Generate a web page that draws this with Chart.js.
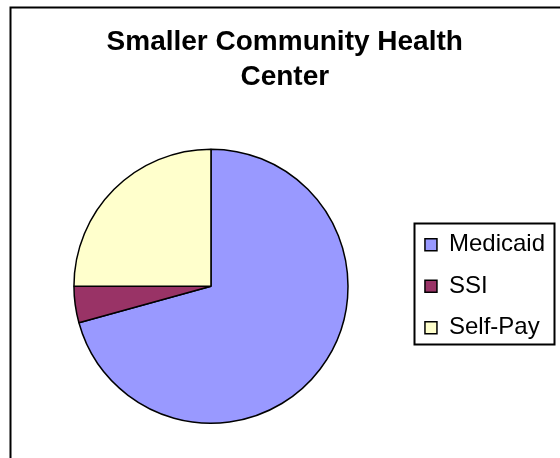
<!DOCTYPE html>
<html>
<head>
<meta charset="utf-8">
<script src="https://cdn.jsdelivr.net/npm/chart.js@4.4.1/dist/chart.umd.min.js"></script>
<style>
  html, body { margin: 0; padding: 0; background: #fff; }
  #wrap { width: 560px; height: 458px; position: relative; }
</style>
</head>
<body>
<div id="wrap"><canvas id="grafico"></canvas></div>
<script>
const categorias = ["Medicaid", "SSI", "Self-Pay"];
const valores = [70.7, 4.3, 25.0];
const colores = ["#9999FF", "#993366", "#FFFFCC"];
const titulo = ["Smaller Community Health", "Center"];

// marco exterior y borde de la leyenda
const marcos = {
  id: "marcos",
  beforeDraw(chart) {
    const ctx = chart.ctx;
    ctx.save();
    ctx.fillStyle = "#fff";
    ctx.fillRect(0, 0, chart.width, chart.height);
    ctx.strokeStyle = "#000";
    ctx.lineWidth = 2;
    ctx.strokeRect(10.5, 7.5, chart.width + 20, chart.height + 20);
    ctx.restore();
  },
  afterDraw(chart) {
    const lg = chart.legend;
    if (!lg || !lg.legendHitBoxes.length) return;
    const hb = lg.legendHitBoxes;
    const first = hb[0], last = hb[hb.length - 1];
    const x0 = first.left - 11;
    const y0 = first.top + first.height / 2 - 21.5;
    const x1 = lg.right - 1;
    const y1 = last.top + last.height / 2 + 16;
    const ctx = chart.ctx;
    ctx.save();
    ctx.strokeStyle = "#000";
    ctx.lineWidth = 2;
    ctx.strokeRect(Math.round(x0) + 0.5, Math.round(y0) + 0.5, Math.round(x1 - x0), Math.round(y1 - y0));
    ctx.restore();
  }
};

let canvas = document.getElementById("grafico").getContext("2d");
var chart = new Chart(canvas, {
  type: "pie",
  data: {
    labels: categorias,
    datasets: [{
      data: valores,
      backgroundColor: colores,
      borderColor: "#000",
      borderWidth: 1.5
    }]
  },
  options: {
    responsive: true,
    maintainAspectRatio: false,
    animation: false,
    layout: { padding: { left: 14.5, right: 5, top: 10, bottom: 34 } },
    plugins: {
      title: {
        display: true,
        text: titulo,
        color: "#000",
        font: { family: "'Liberation Sans', Arial, sans-serif", size: 28, weight: "bold", lineHeight: 1.24 },
        padding: { top: 15, bottom: 54 }
      },
      legend: {
        position: "right",
        fullSize: false,
        labels: {
          color: "#000",
          boxWidth: 12,
          boxHeight: 12,
          padding: 17.5,
          font: { family: "'Liberation Sans', Arial, sans-serif", size: 24 }
        }
      },
      tooltip: { enabled: false }
    }
  },
  plugins: [marcos]
});
</script>
</body>
</html>
